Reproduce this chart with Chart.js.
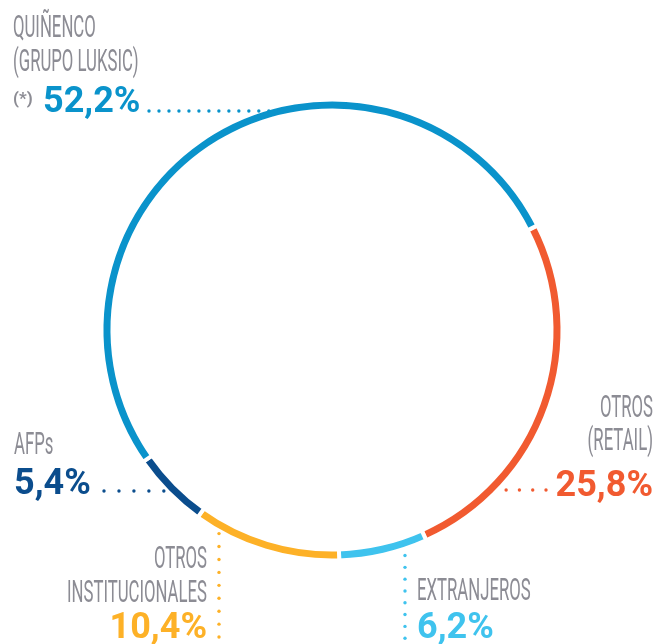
<!DOCTYPE html>
<html>
<head>
<meta charset="utf-8">
<script src="https://cdn.jsdelivr.net/npm/chart.js@4"></script>
<style>
  html, body { margin: 0; padding: 0; background: #fff; }
</style>
</head>
<body>
<canvas id="pie-chart" width="656" height="644"></canvas>
<script>
// slices in clockwise order, starting at the gap top-right
const categories = ['Otros (Retail)', 'Extranjeros', 'Otros Institucionales', 'AFPs', 'Quiñenco (Grupo Luksic)'];
const shares = [25.8, 6.2, 10.4, 5.4, 52.2];
const shareLabels = ['25,8%', '6,2%', '10,4%', '5,4%', '52,2%'];
const nameLines = [['OTROS', '(RETAIL)'], ['EXTRANJEROS'], ['OTROS', 'INSTITUCIONALES'], ['AFPs'], ['QUIÑENCO', '(GRUPO LUKSIC)']];
const colors = ['#F15A30', '#3FC3EE', '#FDB127', '#0B4D8D', '#0A93CB'];

const gray = '#8C8C94';

// where each label block sits around the ring
const labelLayout = [
    { align: 'right', x: 653, nameY: [417, 450], pctY: 496, leader: { dir: 'h', at: 490, from: 'ring', to: 546, side: 1, gap: 11, step: 12 } },
    { align: 'left', x: 417, nameY: [600], pctY: 638, leader: { dir: 'v', at: 405, from: 'ring', to: 650, side: 1, gap: 9, step: 11.7 } },
    { align: 'right', x: 207, nameY: [568, 602], pctY: 638, leader: { dir: 'v', at: 219, from: 'ring', to: 650, side: 1, gap: 5, step: 11.7 } },
    { align: 'left', x: 14, nameY: [454], pctY: 494, leader: { dir: 'h', at: 491, from: 104, to: 'ring', side: -1, gap: -6, step: 12 } },
    { align: 'left', x: 43, nameY: [37, 71], nameX: 13, pctY: 112, prefix: '(*)', leader: { dir: 'h', at: 111, from: 149, to: 'ring', side: -1, gap: 12, step: 9.6 } }
];

const labelPlugin = {
    id: 'sliceLabels',
    afterDraw(chart) {
        const c = chart.ctx;
        const arc = chart.getDatasetMeta(0).data[0];
        const cx = arc.x, cy = arc.y;
        const R = arc.outerRadius - 2;

        function dots(x1, y1, x2, y2, step, color) {
            const len = Math.hypot(x2 - x1, y2 - y1);
            const n = Math.floor(len / step);
            c.fillStyle = color;
            for (let i = 0; i <= n; i++) {
                const t = n ? i / n : 0;
                c.beginPath();
                c.arc(x1 + (x2 - x1) * t, y1 + (y2 - y1) * t, 1.7, 0, Math.PI * 2);
                c.fill();
            }
        }

        // tall narrow caption text: regular Roboto squeezed sideways
        function thinText(t, x, y, align) {
            const sx = 0.54;
            c.save();
            c.font = '400 31px Roboto';
            c.fillStyle = gray;
            c.textAlign = 'left';
            c.textBaseline = 'alphabetic';
            const w = c.measureText(t).width * sx;
            c.translate(align === 'right' ? x - w : x, y);
            c.scale(sx, 1);
            c.fillText(t, 0, 0);
            c.restore();
        }

        labelLayout.forEach(function (L, i) {
            // leader
            const ld = L.leader;
            if (ld.dir === 'h') {
                const rx = cx + ld.side * Math.sqrt(R * R - (ld.at - cy) * (ld.at - cy));
                const x1 = ld.from === 'ring' ? rx + ld.gap : ld.from;
                const x2 = ld.to === 'ring' ? rx + ld.gap : ld.to;
                dots(x1, ld.at, x2, ld.at, ld.step, colors[i]);
            } else {
                const ry = cy + ld.side * Math.sqrt(R * R - (ld.at - cx) * (ld.at - cx));
                dots(ld.at, ry + ld.gap, ld.at, ld.to, ld.step, colors[i]);
            }

            // name lines
            nameLines[i].forEach(function (line, k) {
                thinText(line, L.nameX !== undefined ? L.nameX : L.x, L.nameY[k], L.align);
            });

            // percentage
            c.save();
            c.font = 'bold 36px Roboto';
            c.fillStyle = colors[i];
            c.textAlign = L.align;
            c.textBaseline = 'alphabetic';
            c.fillText(shareLabels[i], L.x, L.pctY);
            if (L.prefix) {
                c.font = 'bold 17px Roboto';
                c.fillStyle = gray;
                c.textAlign = 'left';
                c.fillText(L.prefix, 13, L.pctY - 8);
            }
            c.restore();
        });
    }
};

const ctx = document.getElementById('pie-chart').getContext('2d');
new Chart(ctx, {
    type: 'doughnut',
    data: {
        labels: categories,
        datasets: [{
            data: shares,
            backgroundColor: colors,
            borderColor: '#ffffff',
            borderWidth: 4,
            hoverOffset: 0
        }]
    },
    options: {
        responsive: false,
        animation: false,
        rotation: 63,
        cutout: 219.5,
        layout: {
            padding: { left: 99.5, right: 91.5, top: 97.5, bottom: 81.5 }
        },
        plugins: {
            legend: { display: false },
            tooltip: { enabled: false }
        }
    },
    plugins: [labelPlugin]
});
</script>
</body>
</html>
